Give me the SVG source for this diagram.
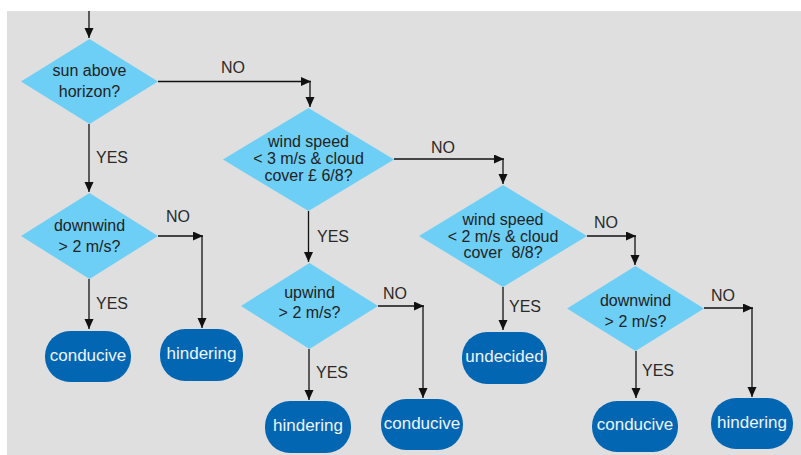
<svg xmlns="http://www.w3.org/2000/svg" width="801" height="455" viewBox="0 0 801 455">
<defs>
<marker id="arr" markerUnits="userSpaceOnUse" markerWidth="11" markerHeight="10" refX="10" refY="4.5" orient="auto">
<path d="M0,0 L10,4.5 L0,9 z" fill="#111"/>
</marker>
<style>
.dia{fill:#6dcff6;}
.term{fill:#0366b3;}
.dt{font-family:"Liberation Sans",Arial,sans-serif;font-size:16px;fill:#222;text-anchor:middle;}
.tt{font-family:"Liberation Sans",Arial,sans-serif;font-size:17px;fill:#eef4fa;text-anchor:middle;}
.lb{font-family:"Liberation Sans",Arial,sans-serif;font-size:16px;fill:#2a2a2a;}
.cn{fill:none;stroke:#111;stroke-width:1.3;marker-end:url(#arr);}
</style>
</defs>
<rect x="0" y="0" width="801" height="455" fill="#fff"/>
<rect x="7" y="11" width="794" height="444" fill="#dfdfdf"/>

<g id="connectors">
<path class="cn" d="M89,11 V38"/>
<path class="cn" d="M89,124 V192"/>
<path class="cn" d="M158,81.5 H311"/>
<path class="cn" d="M310,81.5 V107"/>
<path class="cn" d="M394,159 H504"/>
<path class="cn" d="M503,159 V184"/>
<path class="cn" d="M308.5,211 V262"/>
<path class="cn" d="M587,236 H636"/>
<path class="cn" d="M635,236 V265"/>
<path class="cn" d="M503,287 V330"/>
<path class="cn" d="M704,308 H753"/>
<path class="cn" d="M752,308 V397"/>
<path class="cn" d="M636,351 V398"/>
<path class="cn" d="M158,236 H203"/>
<path class="cn" d="M202,236 V328"/>
<path class="cn" d="M89,279 V329"/>
<path class="cn" d="M378,306 H424"/>
<path class="cn" d="M423,306 V398"/>
<path class="cn" d="M309,349 V400"/>
<text class="lb" x="221" y="73">NO</text>
<text class="lb" x="96" y="163">YES</text>
<text class="lb" x="431" y="153">NO</text>
<text class="lb" x="317" y="242">YES</text>
<text class="lb" x="594" y="228">NO</text>
<text class="lb" x="509" y="312">YES</text>
<text class="lb" x="711" y="301">NO</text>
<text class="lb" x="642" y="376">YES</text>
<text class="lb" x="166" y="222">NO</text>
<text class="lb" x="96" y="309">YES</text>
<text class="lb" x="383" y="299">NO</text>
<text class="lb" x="316" y="378">YES</text>
</g>

<g id="d1">
<polygon class="dia" points="89.5,39 158,81.5 89.5,124 21,81.5"/>
<text class="dt" x="89.5" y="76">sun above</text>
<text class="dt" x="89.5" y="97">horizon?</text>
</g>
<g id="d2">
<polygon class="dia" points="308.5,108 394,159.5 308.5,211 223,159.5"/>
<text class="dt" x="308.5" y="147">wind speed</text>
<text class="dt" x="308.5" y="164">&lt; 3 m/s &amp; cloud</text>
<text class="dt" x="308.5" y="181">cover £ 6/8?</text>
</g>
<g id="d3">
<polygon class="dia" points="503,185 587,236 503,287 419,236"/>
<text class="dt" x="503" y="225">wind speed</text>
<text class="dt" x="503" y="241.7">&lt; 2 m/s &amp; cloud</text>
<text class="dt" x="503" y="258" xml:space="preserve">cover  8/8?</text>
</g>
<g id="d4">
<polygon class="dia" points="635.5,266 704,308.5 635.5,351 567,308.5"/>
<text class="dt" x="635.5" y="306">downwind</text>
<text class="dt" x="635.5" y="326.7">&gt; 2 m/s?</text>
</g>
<g id="dl">
<polygon class="dia" points="89.5,193 158,236 89.5,279 21,236"/>
<text class="dt" x="89.5" y="231">downwind</text>
<text class="dt" x="89.5" y="252">&gt; 2 m/s?</text>
</g>
<g id="du">
<polygon class="dia" points="309.5,263 378,306 309.5,349 241,306"/>
<text class="dt" x="309.5" y="298">upwind</text>
<text class="dt" x="309.5" y="318">&gt; 2 m/s?</text>
</g>

<g id="t1">
<rect class="term" x="45" y="331" width="86" height="51" rx="25" ry="25"/>
<text class="tt" x="88" y="361">conducive</text>
</g>
<g id="t2">
<rect class="term" x="160" y="329" width="83" height="52" rx="25" ry="25"/>
<text class="tt" x="201.5" y="359">hindering</text>
</g>
<g id="t3">
<rect class="term" x="265" y="401" width="86" height="52" rx="25" ry="25"/>
<text class="tt" x="308" y="431">hindering</text>
</g>
<g id="t4">
<rect class="term" x="381" y="399" width="82" height="51" rx="25" ry="25"/>
<text class="tt" x="422" y="428.5">conducive</text>
</g>
<g id="t5">
<rect class="term" x="462" y="332" width="85" height="52" rx="25" ry="25"/>
<text class="tt" x="504.5" y="362.3">undecided</text>
</g>
<g id="t6">
<rect class="term" x="592" y="401" width="86" height="51" rx="25" ry="25"/>
<text class="tt" x="635" y="430">conducive</text>
</g>
<g id="t7">
<rect class="term" x="711" y="398" width="82" height="51" rx="25" ry="25"/>
<text class="tt" x="752" y="427.5">hindering</text>
</g>
</svg>
